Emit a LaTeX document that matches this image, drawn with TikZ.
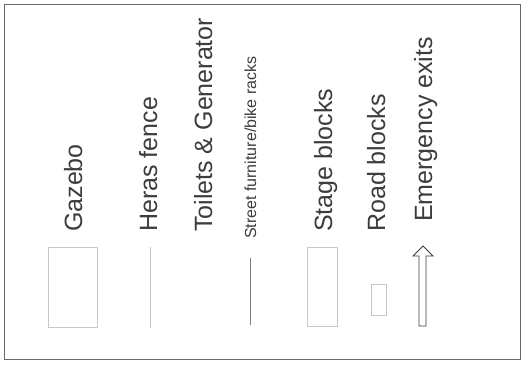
\documentclass[tikz,border=0pt]{standalone}
\usepackage{fontspec}
\setmainfont{Liberation Sans}
\definecolor{ink}{HTML}{3C3C3C}
\definecolor{frame}{HTML}{6A6A6A}
\definecolor{pale}{HTML}{C8C8C8}
\begin{document}
\begin{tikzpicture}[x=1pt,y=-1pt,
  keylabel/.style={rotate=90,anchor=base west,inner sep=0pt,text=ink,font=\fontsize{25}{30}\selectfont},
  smalllabel/.style={keylabel,font=\fontsize{16}{19}\selectfont},
  keybox/.style={draw=pale,line width=0.6pt}]
\useasboundingbox (0,0) rectangle (525,365);
\draw[frame,line width=1pt] (4,4) rectangle (520,359);
% labels
\node[keylabel] (gazebo) at (82,232) {Gazebo};
\node[keylabel] (heras) at (157,232) {Heras fence};
\node[keylabel] (toilets) at (212,232) {Toilets \& Generator};
\node[smalllabel] (street) at (256,239) {Street furniture/bike racks};
\node[keylabel] (stage) at (332,232) {Stage blocks};
\node[keylabel] (road) at (385,232) {Road blocks};
\node[keylabel] (exits) at (432,222) {Emergency exits};
% symbols
\draw[keybox] (48,247) rectangle (97,327);
\draw[pale,line width=0.8pt] (150,247) -- (150,328);
\draw[gray,line width=0.8pt] (250,258) -- (250,325);
\draw[keybox] (307,247) rectangle (337,326);
\draw[keybox] (371,284) rectangle (386,315);
\draw[ink,line width=0.8pt,fill=white] (419,326) -- (419,256) -- (413,256) -- (423,246)
  -- (433,256) -- (426,256) -- (426,326) -- cycle;
\end{tikzpicture}
\end{document}
